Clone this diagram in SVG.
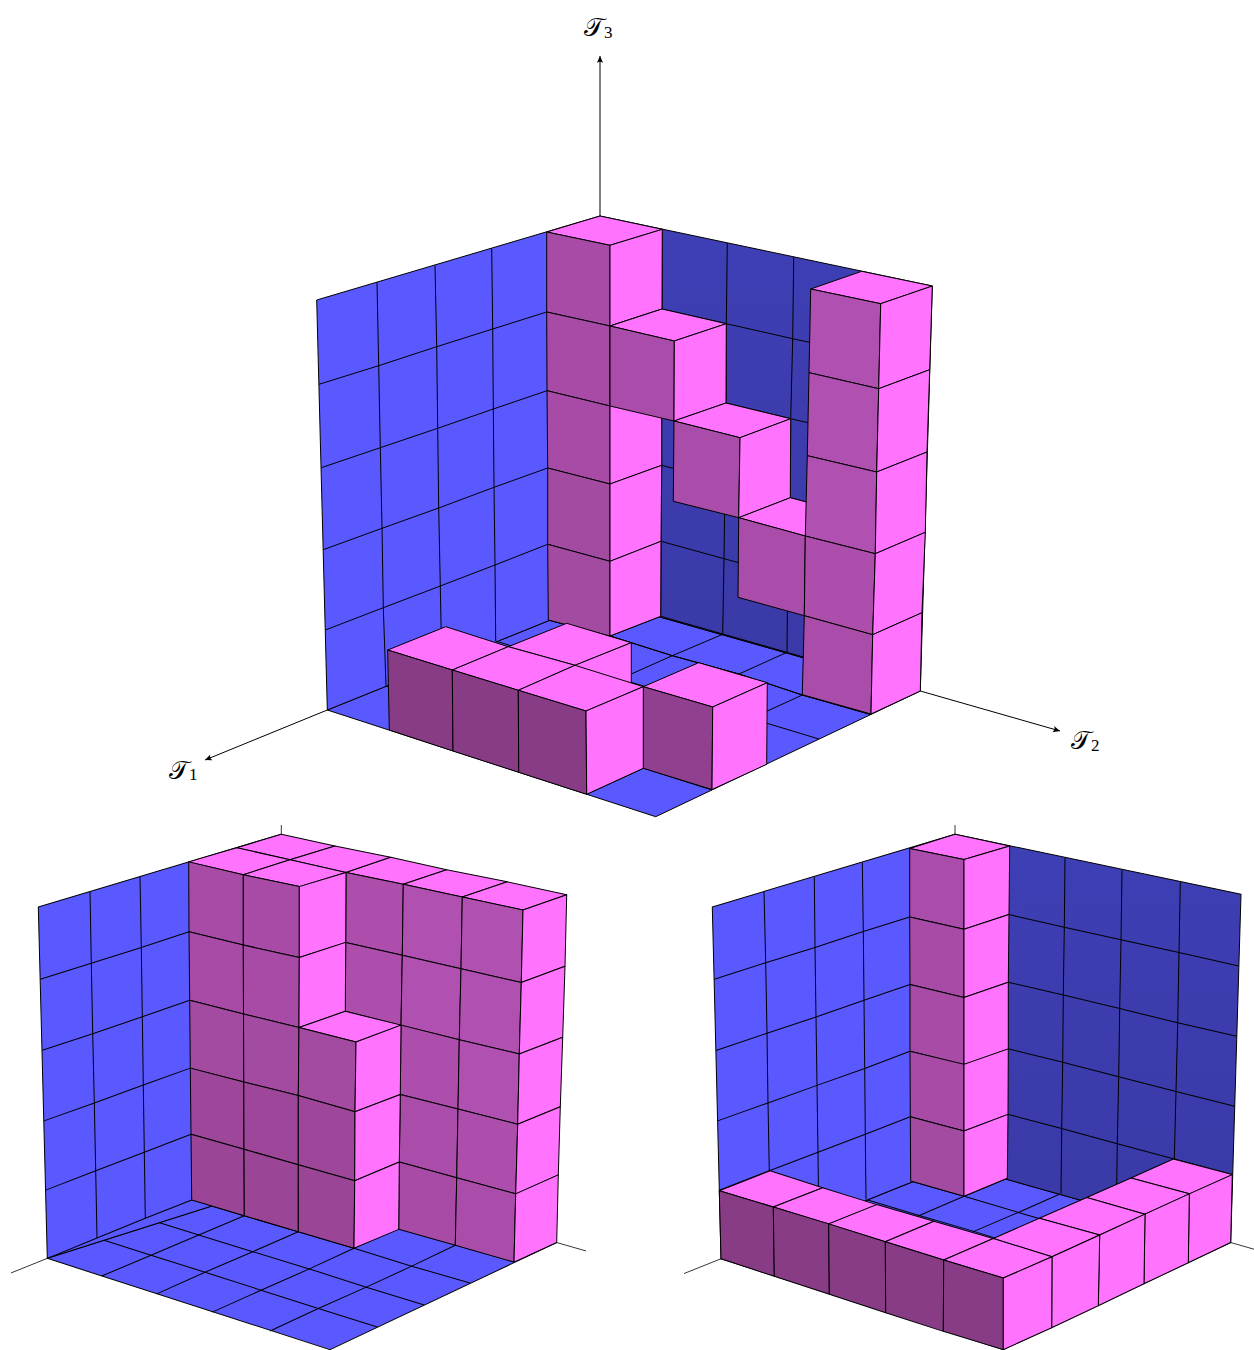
<svg xmlns="http://www.w3.org/2000/svg" width="1254" height="1350" viewBox="0 0 1254 1350">
<style>
polygon,polyline{stroke:#000;stroke-width:1;stroke-linejoin:round}
polyline{fill:none}
.b{fill:#5959FF}.w{fill:url(#wg)}.p{fill:#FF73FF}
.s1{fill:#B050B0}.s2{fill:#AD4EAC}.s3{fill:#AA4CA9}.s4{fill:#A74BA6}.s5{fill:#A34AA1}.s6{fill:#9E479A}.s7{fill:#9A4596}.s8{fill:#914090}.s9{fill:#883C85}
.ax{stroke:#000;stroke-width:1;fill:none}
.st{stroke:#222;stroke-width:.9;fill:none}
.t{font-family:"DejaVu Sans","DejaVu Serif",serif;font-size:26px;fill:#000}
.n{font-family:"Liberation Serif",serif;font-size:17px;fill:#000}
</style>
<defs>
<linearGradient id="wg" x1="0" y1="0" x2="0" y2="1"><stop offset="0" stop-color="#3F3FB6"/><stop offset="1" stop-color="#3939A6"/></linearGradient>
<marker id="ah" viewBox="-8 -4 10 8" markerWidth="10" markerHeight="8" refX="0" refY="0" orient="auto" markerUnits="userSpaceOnUse"><path d="M0 0L-7 -3.2Q-4.5 0 -7 3.2Z" fill="#000"/></marker>
</defs>

<g id="connectors">
<line class="ax" x1="600" y1="216" x2="600" y2="56" marker-end="url(#ah)"/>
<line class="ax" x1="327.3" y1="710" x2="205" y2="760" marker-end="url(#ah)"/>
<line class="ax" x1="920.3" y1="691" x2="1060" y2="731" marker-end="url(#ah)"/>
</g>

<g id="top-walls">
<polygon class="b" points="327.3,710 655.7,816.7 920.3,691 600,600"/>
<polyline points="548.3,620 610,636 672.3,655.7 739,674 802.3,695 870,714.3"/>
<polyline points="495.7,641 557,660 620,679 685.5,698.5 751,718.5 819,739"/>
<polyline points="441.7,662 503.5,681.4 566.8,701.4 632.5,722 698.5,742.8 766.7,764.3"/>
<polyline points="386,686 448,705.8 511.5,726 577.4,747 643.5,768.2 712,790"/>
<polyline points="660.7,616.3 610,636 557,660 503.5,681.4 448,705.8 389.3,730"/>
<polyline points="722.7,634.3 672.3,655.7 620,679 566.8,701.4 511.5,726 453,751"/>
<polyline points="787,652.3 739,674 685.5,698.5 632.5,722 577.4,747 518.7,772.3"/>
<polyline points="854,671 802.3,695 751,718.5 698.5,742.8 643.5,768.2 586.7,794.3"/>
<polygon class="b" points="316.7,300 600,216 600,600 327.3,710"/>
<polyline points="377,282.3 378.7,365.7 380.3,447.7 382,528.3 383.3,607.7 386,686"/>
<polyline points="435,265.3 436.7,346.7 437.7,428.3 438.7,508 440.3,586 441.7,662"/>
<polyline points="491.7,248.3 492.7,329 493.3,409 494,487.3 495,565 495.7,641"/>
<polyline points="319,384.3 378.7,365.7 436.7,346.7 492.7,329 546.7,312"/>
<polyline points="321.3,467.7 380.3,447.7 437.7,428.3 493.3,409 547,390.7"/>
<polyline points="323.3,549.7 382,528.3 438.7,508 494,487.3 547.7,468"/>
<polyline points="325.3,630 383.3,607.7 440.3,586 495,565 547.7,544.3"/>
<polygon class="w" points="600,216 932.3,286 920.3,691 600,600"/>
<polyline points="662.3,229.3 662,309 661.7,387 661.7,465.3 661,541.3 660.7,616.3"/>
<polyline points="727.3,243.3 726.3,323.7 726,403 725,482 724,558.7 722.7,634.3"/>
<polyline points="793.7,257.3 792.7,338.7 790.7,418.7 790.3,497.7 787.7,576 787,652.3"/>
<polyline points="662,309 726.3,323.7 792.7,338.7 860,353.3"/>
<polyline points="661.7,387 726,403 790.7,418.7 857,434"/>
<polyline points="661.7,465.3 725,482 790.3,497.7 855,515"/>
<polyline points="661,541.3 724,558.7 787.7,576 852,594"/>
<polygon class="b" points="548.3,620 660.7,616.3 787,652.3 920,691 870,714.3 802.3,695 739,674 672.3,655.7 610,636" fill-opacity="0" stroke="none" style="fill:none"/>
</g>

<g id="top-column-1">
<polygon class="p" points="600,216 662.3,229.3 610,245.3 546.7,232"/>
<polygon class="s4" points="546.7,232 610,245.3 610,326 546.7,312"/>
<polygon class="s4" points="546.7,312 610,326 610,406 547,390.7"/>
<polygon class="s4" points="547,390.7 610,406 610,484 547.7,468"/>
<polygon class="s5" points="547.7,468 610,484 610,561.3 547.7,544.3"/>
<polygon class="s5" points="547.7,544.3 610,561.3 610,636 548.3,620"/>
<polygon class="p" points="610,245.3 662.3,229.3 662,309 610,326"/>
<polygon class="p" points="610,326 662,309 661.7,387 610,406"/>
<polygon class="p" points="610,406 661.7,387 661.7,465.3 610,484" style="stroke:none"/>
<polyline points="610,406 610,484 661.7,465.3 661.7,387"/>
<polygon class="p" points="610,484 661.7,465.3 661,541.3 610,561.3"/>
<polygon class="p" points="610,561.3 661,541.3 660.7,616.3 610,636"/>
</g>

<g id="top-cube-2">
<polygon class="p" points="662,309 726.3,323.7 674.3,341 610,326"/>
<polygon class="s3" points="610,326 674.3,341 674,421 610,406"/>
<polygon class="p" points="674.3,341 726.3,323.7 726,403 674,421"/>
</g>
<g id="top-cube-3">
<polygon class="p" points="726,403 790.7,418.7 740,437.7 674,421"/>
<polygon class="s3" points="674,421 740,437.7 738.7,517.7 673.3,501.3"/>
<polygon class="p" points="740,437.7 790.7,418.7 790.3,497.7 738.7,517.7"/>
</g>
<g id="top-cube-4">
<polygon class="p" points="790.3,497.7 855,515 805.3,536 738.7,517.7"/>
<polygon class="s3" points="738.7,517.7 805.3,536 804.3,615.7 738,597.3"/>
</g>
<g id="top-column-5">
<polygon class="p" points="861.7,271.3 932.3,286 880.7,303.7 810.7,289"/>
<polygon class="s1" points="810.7,289 880.7,303.7 878.7,388.7 809,372.7"/>
<polygon class="s1" points="809,372.7 878.7,388.7 876.7,472 807.3,455.7"/>
<polygon class="s1" points="807.3,455.7 876.7,472 875.3,553.7 805.3,536"/>
<polygon class="s2" points="805.3,536 875.3,553.7 872.7,634.7 804.3,615.7"/>
<polygon class="s3" points="804.3,615.7 872.7,634.7 871,714 802.3,694.7"/>
<polygon class="p" points="880.7,303.7 932.3,286 929.7,369.7 878.7,388.7"/>
<polygon class="p" points="878.7,388.7 929.7,369.7 927,452 876.7,472"/>
<polygon class="p" points="876.7,472 927,452 925.3,532.3 875.3,553.7"/>
<polygon class="p" points="875.3,553.7 925.3,532.3 922,612.7 872.7,634.7"/>
<polygon class="p" points="872.7,634.7 922,612.7 920.3,691 871,714"/>
</g>
<g id="top-block-6">
<polygon class="p" points="566.7,623.3 631.3,642.7 575,665.3 508.3,646.7"/>
<polygon class="p" points="575,665.3 631.3,642.7 631.3,722 577.4,747"/>
</g>
<g id="top-block-7">
<polygon class="p" points="698.7,662.7 767.3,682.7 712.7,707 643.3,686.7"/>
<polygon class="s8" points="643.3,686.7 712.7,707 712,789.5 643.3,768.3"/>
<polygon class="p" points="712.7,707 767.3,682.7 766.7,764.3 712,789.5"/>
</g>
<g id="top-block-8">
<polygon class="p" points="445.7,626.7 508.3,646.7 452.3,670 387.7,650"/>
<polygon class="s9" points="387.7,650 452.3,670 453,751 389.3,730"/>
</g>
<g id="top-block-9">
<polygon class="p" points="508.3,646.7 575,665.3 518.3,690.3 452.3,670"/>
<polygon class="s9" points="452.3,670 518.3,690.3 518.7,772.3 453,751"/>
</g>
<g id="top-block-10">
<polygon class="p" points="575,665.3 643.3,686.7 586,711 518.3,690.3"/>
<polygon class="s9" points="518.3,690.3 586,711 586.7,794.3 518.7,772.3"/>
<polygon class="p" points="586,711 643.3,686.7 643.3,768.3 586.7,794.3"/>
</g>

<g id="labels">
<text class="t" x="584" y="36">𝒯</text><text class="n" x="604" y="38">3</text>
<text class="t" x="169" y="779">𝒯</text><text class="n" x="189" y="780">1</text>
<text class="t" x="1071" y="749">𝒯</text><text class="n" x="1091" y="751">2</text>
</g>

<g id="left-diagram" transform="matrix(1 0 0 1.014 0 -11.48)">
<g id="left-stubs">
<line class="st" x1="281.3" y1="825" x2="281.3" y2="834"/>
<line class="st" x1="47.3" y1="1252.3" x2="11" y2="1266.7"/>
<line class="st" x1="556.7" y1="1236.7" x2="586" y2="1245"/>
</g>
<g id="left-floor">
<polygon class="b" points="47.3,1252.3 330,1342.3 556.7,1236.7 281,1179"/>
<polyline points="191.7,1194.7 244.3,1210.3 298.3,1226 354,1242.3 411.7,1260 470,1276.7"/>
<polyline points="145.3,1212.7 198.7,1229.3 252.7,1245.7 309.3,1262.7 366.3,1280.7 424.3,1298.3"/>
<polyline points="97,1232.3 151,1249.3 205,1266 261,1283.7 318.3,1301.7 377.3,1320"/>
<polyline points="244.3,1210.3 198.7,1229.3 151,1249.3 101.7,1269.7"/>
<polyline points="298.3,1226 252.7,1245.7 205,1266 156.7,1287.3"/>
<polyline points="354,1242.3 309.3,1262.7 261,1283.7 212.3,1305.3"/>
<polyline points="455.3,1239.3 411.7,1260 366.3,1280.7 318.3,1301.7 270,1324"/>
</g>
<g id="left-wall">
<polygon class="b" points="38.3,905.7 281.3,834 281,1179 47.3,1252.3"/>
<polyline points="90,890.7 91.3,961.3 92.7,1030.7 94.3,1099 95.7,1166 97,1232.3"/>
<polyline points="140,876 141.3,945.7 142.3,1014 143.3,1081.3 144.3,1147.7 145.3,1212.7"/>
<polyline points="40.3,977 91.3,961.3 141.3,945.7 189,930.3"/>
<polyline points="42.3,1047 92.7,1030.7 142.3,1014 189.7,997.7"/>
<polyline points="44,1116.7 94.3,1099 143.3,1081.3 190.3,1064.7"/>
<polyline points="45.7,1185 95.7,1166 144.3,1147.7 191,1130"/>
<polyline points="47.3,1252.3 97,1232.3 145.3,1212.7 191.7,1194.7"/>
</g>
<g id="left-slab">
<polygon class="p" points="281.3,834 335,845.7 290,859.3 236.7,847.3"/>
<polygon class="p" points="335,845.7 390.7,856.7 346,871.7 290,859.3"/>
<polygon class="p" points="390.7,856.7 446.7,869 403.3,883.3 346,871.7"/>
<polygon class="p" points="446.7,869 507.3,881 462.3,896 403.3,883.3"/>
<polygon class="p" points="507.3,881 566.7,893.7 523,908.7 462.3,896"/>
<polygon class="s2" points="346,871.7 403.3,883.3 402.3,953.3 345.7,940.7"/>
<polygon class="s2" points="345.7,940.7 402.3,953.3 401,1022.3 345.3,1008.7"/>
<polygon class="s1" points="403.3,883.3 462.3,896 461,966.7 402.3,953.3"/>
<polygon class="s1" points="402.3,953.3 461,966.7 459.3,1036.7 401,1022.3"/>
<polygon class="s2" points="401,1022.3 459.3,1036.7 458,1105 400.3,1090.7"/>
<polygon class="s3" points="400.3,1090.7 458,1105 456.7,1172.7 399.3,1157.3"/>
<polygon class="s4" points="399.3,1157.3 456.7,1172.7 455.3,1239.3 398.7,1223.7"/>
<polygon class="s1" points="462.3,896 523,908.7 521.3,980.3 461,966.7"/>
<polygon class="s1" points="461,966.7 521.3,980.3 519.3,1050.7 459.3,1036.7"/>
<polygon class="s1" points="459.3,1036.7 519.3,1050.7 517.7,1120 458,1105"/>
<polygon class="s2" points="458,1105 517.7,1120 515.7,1188.7 456.7,1172.7"/>
<polygon class="s3" points="456.7,1172.7 515.7,1188.7 514,1256 455.3,1239.3"/>
<polygon class="p" points="523,908.7 566.7,893.7 565,964.3 521.3,980.3"/>
<polygon class="p" points="521.3,980.3 565,964.3 562.7,1034.3 519.3,1050.7"/>
<polygon class="p" points="519.3,1050.7 562.7,1034.3 560.3,1102.7 517.7,1120"/>
<polygon class="p" points="517.7,1120 560.3,1102.7 558.3,1170 515.7,1188.7"/>
<polygon class="p" points="515.7,1188.7 558.3,1170 556.7,1236.7 514,1256"/>
</g>
<g id="left-column">
<polygon class="p" points="236.7,847.3 290,859.3 243.3,874 188.7,861.3"/>
<polygon class="p" points="290,859.3 346,871.7 299.3,885.7 243.3,874"/>
<polygon class="s4" points="188.7,861.3 243.3,874 243.3,943.3 189,930.3"/>
<polygon class="s4" points="189,930.3 243.3,943.3 243.5,1011.3 189.7,997.7"/>
<polygon class="s5" points="189.7,997.7 243.5,1011.3 243.8,1078.3 190.3,1064.7"/>
<polygon class="s6" points="190.3,1064.7 243.8,1078.3 244,1144.7 191,1130"/>
<polygon class="s7" points="191,1130 244,1144.7 244.3,1210.3 191.7,1194.7"/>
<polygon class="s4" points="243.3,874 299.3,885.7 299.3,955.7 243.3,943.3"/>
<polygon class="s4" points="243.3,943.3 299.3,955.7 299,1024.7 243.5,1011.3"/>
<polygon class="s5" points="243.5,1011.3 299,1024.7 298.3,1091.7 243.8,1078.3"/>
<polygon class="s6" points="243.8,1078.3 298.3,1091.7 298.3,1160 244,1144.7"/>
<polygon class="s7" points="244,1144.7 298.3,1160 298.3,1226 244.3,1210.3"/>
<polygon class="p" points="299.3,885.7 346,871.7 345.7,940.7 299.3,955.7"/>
<polygon class="p" points="299.3,955.7 345.7,940.7 345.3,1008.7 299,1024.7"/>
</g>
<g id="left-cube">
<polygon class="p" points="345.3,1008.7 401,1022.3 356,1039 299,1024.7"/>
<polygon class="s5" points="299,1024.7 356,1039 355,1107.7 298.3,1091.7"/>
<polygon class="s6" points="298.3,1091.7 355,1107.7 354.7,1175.7 298.3,1160"/>
<polygon class="s7" points="298.3,1160 354.7,1175.7 354,1242.3 298.3,1226"/>
<polygon class="p" points="356,1039 401,1022.3 400.3,1090.7 355,1107.7"/>
<polygon class="p" points="355,1107.7 400.3,1090.7 399.3,1157.3 354.7,1175.7"/>
<polygon class="p" points="354.7,1175.7 399.3,1157.3 398.7,1223.7 354,1242.3"/>
</g>
</g>

<g id="right-diagram" transform="matrix(1 0 0 1.014 0 -11.48)">
<g id="right-stubs">
<line class="st" x1="955" y1="825" x2="955" y2="834"/>
<line class="st" x1="721" y1="1252.7" x2="684" y2="1267.3"/>
<line class="st" x1="1230.7" y1="1236.7" x2="1254" y2="1243.3"/>
</g>
<g id="right-floor">
<polygon class="b" points="721,1252.7 1003.3,1342.3 1230.7,1236.7 955,1160"/>
<polyline points="910.7,1176 964,1191 1018.3,1207 1075,1223"/>
<polyline points="866,1194.3 919.3,1210 974,1225.7 1030,1243"/>
<polyline points="1007.3,1173.3 964,1191 919.3,1210 872,1230"/>
<polyline points="1061,1188.3 1018.3,1207 974,1225.7 925,1247"/>
</g>
<g id="right-walls">
<polygon class="b" points="712.3,905.7 955,834 955,1160 721,1252.7"/>
<polyline points="764,890.7 765.7,960.7 767,1030.3 768,1099 769.3,1166 770.5,1232"/>
<polyline points="814.3,876 815,945.7 816,1014.3 817,1081.7 818,1147.7 818.7,1212"/>
<polyline points="862.3,862 863.3,930 864,997.7 864.7,1065 865.3,1130 866,1194.3"/>
<polyline points="714.3,977 765.7,960.7 815,945.7 863.3,930 909.7,915.7"/>
<polyline points="716,1047.3 767,1030.3 816,1014.3 864,997.7 910,982.3"/>
<polyline points="717.7,1116.7 768,1099 817,1081.7 864.7,1065 910,1048"/>
<polyline points="719.3,1185 769.3,1166 818,1147.7 865.3,1130 910.3,1112.7"/>
<polygon class="w" points="955,834 1241,893.3 1230.7,1236.7 955,1160"/>
<polyline points="1065,857.3 1064.3,925.7 1063.3,992.7 1062.7,1059 1061.7,1124.3 1061,1188.3"/>
<polyline points="1122,869.3 1121,938 1119.7,1006 1118.7,1073.3 1117.3,1139.3 1116.3,1203.7"/>
<polyline points="1180.3,881.3 1179,950.7 1177.7,1020 1176,1087.7 1174.3,1154.3 1172,1220"/>
<polyline points="1009,913.3 1064.3,925.7 1121,938 1179,950.7 1238.7,964"/>
<polyline points="1008.3,980 1063.3,992.7 1119.7,1006 1177.7,1020 1236.7,1033.3"/>
<polyline points="1008.3,1045.7 1062.7,1059 1118.7,1073.3 1176,1087.7 1234.7,1102.3"/>
<polyline points="1008,1110.3 1061.7,1124.3 1117.3,1139.3 1174.3,1154.3 1232.3,1169.7"/>
</g>
<g id="right-column">
<polygon class="p" points="955,834 1009.7,845.7 964,859 909.7,848"/>
<polygon class="s3" points="909.7,848 964,859 964,927.7 909.7,915.7"/>
<polygon class="s4" points="909.7,915.7 964,927.7 964,995 910,982.3"/>
<polygon class="s4" points="910,982.3 964,995 964,1061 910,1048"/>
<polygon class="s4" points="910,1048 964,1061 964,1126.7 910.3,1112.7"/>
<polygon class="s5" points="910.3,1112.7 964,1126.7 964,1191 910.7,1176"/>
<polygon class="p" points="964,859 1009.7,845.7 1009,913.3 964,927.7"/>
<polygon class="p" points="964,927.7 1009,913.3 1008.3,980 964,995"/>
<polygon class="p" points="964,995 1008.3,980 1008.3,1045.7 964,1061"/>
<polygon class="p" points="964,1061 1008.3,1045.7 1008,1110.3 964,1126.7"/>
<polygon class="p" points="964,1126.7 1008,1110.3 1007.3,1173.3 964,1191"/>
</g>
<g id="right-row-back">
<polygon class="p" points="1131,1173 1189.3,1188.7 1232.3,1169.7 1173.3,1154.3"/>
<polygon class="p" points="1086.7,1192.3 1145,1208.7 1189.3,1188.7 1131,1173"/>
<polygon class="p" points="1039.3,1212.7 1099.7,1229.3 1145,1208.7 1086.7,1192.3"/>
<polygon class="p" points="993.3,1232.7 1052,1250.7 1099.7,1229.3 1039.3,1212.7"/>
<polygon class="p" points="1189.3,1188.7 1232.3,1169.7 1230.7,1236.7 1188.3,1256.7"/>
<polygon class="p" points="1145,1208.7 1189.3,1188.7 1188.3,1256.7 1144,1277.3"/>
<polygon class="p" points="1099.7,1229.3 1145,1208.7 1144,1277.3 1098.3,1299"/>
<polygon class="p" points="1052,1250.7 1099.7,1229.3 1098.3,1299 1051.7,1320.7"/>
</g>
<g id="right-row-front">
<polygon class="p" points="770,1166 822.7,1182.7 773.3,1201.7 719.3,1185.7"/>
<polygon class="s9" points="719.3,1185.7 773.3,1201.7 774.3,1270 721,1252.7"/>
<polygon class="p" points="822.7,1182.7 876.7,1199.3 828.7,1218.3 773.3,1201.7"/>
<polygon class="s9" points="773.3,1201.7 828.7,1218.3 829.3,1287.7 774.3,1270"/>
<polygon class="p" points="876.7,1199.3 934,1215.7 885.3,1236 828.7,1218.3"/>
<polygon class="s9" points="828.7,1218.3 885.3,1236 885.7,1306 829.3,1287.7"/>
<polygon class="p" points="934,1215.7 993.3,1232.7 943.7,1254 885.3,1236"/>
<polygon class="s9" points="885.3,1236 943.7,1254 943.3,1324.3 885.7,1306"/>
<polygon class="p" points="993.3,1232.7 1052,1250.7 1003.3,1271.7 943.7,1254"/>
<polygon class="s9" points="943.7,1254 1003.3,1271.7 1003.3,1342.3 943.3,1324.3"/>
<polygon class="p" points="1003.3,1271.7 1052,1250.7 1051.7,1320.7 1003.3,1342.3"/>
</g>
</g>
</svg>
